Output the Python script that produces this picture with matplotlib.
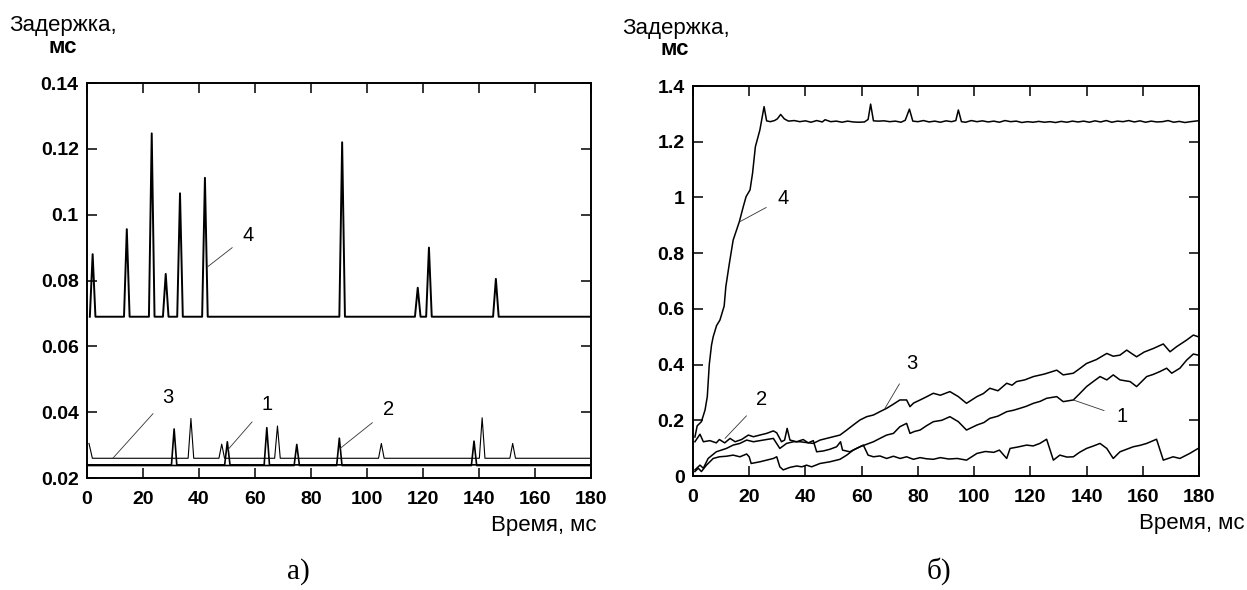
import numpy as np
import matplotlib
matplotlib.use("Agg")
import matplotlib.pyplot as plt

plt.rcParams['font.family'] = ['Liberation Sans', 'DejaVu Sans']

# ---- а) spikes on flat baselines
a4_base = 0.069
a4_peak_t = [2.0, 14.2, 23.1, 28.1, 33.2, 42.1, 91.1, 118.1, 122.1, 146.0]
a4_peak_v = [0.088, 0.0956, 0.1247, 0.082, 0.1065, 0.1112, 0.122, 0.0778, 0.090, 0.0805]

a3_base = 0.026
a3_start = (0.7, 0.0305)
a3_peak_t = [37.1, 48.1, 68.0, 105.1, 141.1, 152.0]
a3_peak_v = [0.0381, 0.0303, 0.0358, 0.0305, 0.0383, 0.0305]

a1_base = 0.0240
a1_peak_t = [31.1, 50.1, 64.2]
a1_peak_v = [0.0349, 0.031, 0.0353]

a2_base = 0.0238
a2_peak_t = [74.9, 90.1, 138.2]
a2_peak_v = [0.0302, 0.0321, 0.0312]

# ---- б) delay traces, (time, delay) pairs
b4 = [(0.7, 0.14), (1.5, 0.18), (3.0, 0.195), (4.3, 0.237), (5.1, 0.285), (5.8, 0.40),
      (6.6, 0.47), (7.2, 0.50), (8.4, 0.54), (9.6, 0.56), (11.1, 0.61), (11.7, 0.68),
      (12.9, 0.76), (14.3, 0.847), (16.5, 0.913), (17.9, 0.967), (18.9, 1.003),
      (20.3, 1.027), (21.2, 1.087), (22.2, 1.182), (23.8, 1.242), (25.3, 1.326),
      (26.2, 1.275), (27.5, 1.272), (29, 1.276), (30, 1.282), (31.2, 1.298), (32.5, 1.282),
      (34, 1.274), (36, 1.276), (38, 1.272), (40, 1.275), (42, 1.270), (44, 1.276),
      (46, 1.271), (47, 1.279), (49, 1.272), (51, 1.274), (53, 1.270), (55, 1.274),
      (57, 1.271), (59, 1.270), (61, 1.271), (62.3, 1.280), (63.2, 1.335), (64.2, 1.275),
      (66, 1.274), (68, 1.275), (70, 1.272), (72, 1.274), (74, 1.270), (75.5, 1.277),
      (77, 1.317), (78.2, 1.274), (80, 1.272), (82, 1.276), (84, 1.271), (86, 1.274),
      (88, 1.270), (90, 1.275), (92, 1.272), (93.5, 1.276), (94.4, 1.314), (95.5, 1.272),
      (97, 1.270), (99, 1.276), (101, 1.272), (103, 1.275), (105, 1.271), (107, 1.274),
      (109, 1.270), (111, 1.276), (113, 1.272), (115, 1.274), (117, 1.269), (119, 1.272),
      (121, 1.270), (123, 1.273), (125, 1.270), (127, 1.272), (129, 1.269), (131, 1.273),
      (133, 1.270), (135, 1.274), (137, 1.271), (139, 1.274), (141, 1.270), (143, 1.275),
      (145, 1.271), (147, 1.276), (149, 1.270), (151, 1.274), (153, 1.272), (155, 1.276),
      (157, 1.271), (159, 1.275), (161, 1.270), (163, 1.274), (165, 1.271), (167, 1.272),
      (169, 1.276), (171, 1.270), (173, 1.273), (175, 1.269), (177, 1.272), (179.5, 1.275)]

b3 = [(0.7, 0.022), (2.5, 0.039), (3.7, 0.028), (5.4, 0.063), (8.3, 0.087), (11.9, 0.099),
      (14.3, 0.111), (16.7, 0.117), (19.1, 0.129), (21.5, 0.123), (25, 0.129), (28.6, 0.135),
      (30.9, 0.099), (33.3, 0.117), (35.7, 0.123), (38.1, 0.123), (40.4, 0.120),
      (42.8, 0.117), (45.2, 0.129), (49.9, 0.141), (52.3, 0.147), (54.7, 0.165),
      (57.0, 0.183), (59.4, 0.201), (61.8, 0.213), (64.2, 0.219), (66.5, 0.231),
      (68.9, 0.243), (71.3, 0.258), (73.6, 0.273), (76, 0.273), (77.2, 0.249), (78.5, 0.262),
      (80.8, 0.273), (83.2, 0.285), (85.5, 0.297), (88, 0.290), (91.4, 0.303), (94.4, 0.285),
      (97.3, 0.261), (101, 0.285), (103.3, 0.296), (105.6, 0.315), (108.5, 0.306),
      (111.6, 0.333), (113.5, 0.326), (115.1, 0.339), (118, 0.345), (121.1, 0.357),
      (125, 0.366), (129.4, 0.380), (131.7, 0.363), (135.3, 0.369), (137.5, 0.385),
      (140, 0.404), (143.5, 0.418), (147.2, 0.440), (149.5, 0.430), (151.9, 0.434),
      (154.3, 0.452), (156, 0.440), (157.8, 0.428), (160.5, 0.445), (163.8, 0.458),
      (167.3, 0.474), (169.7, 0.446), (172, 0.464), (175.6, 0.488), (178, 0.506),
      (179.7, 0.500)]

b1 = [(0.7, 0.016), (1.9, 0.028), (3.0, 0.016), (4.8, 0.039), (7.2, 0.063), (9.4, 0.069),
      (11.9, 0.071), (14.3, 0.075), (16.7, 0.069), (19.1, 0.079), (20.0, 0.069),
      (20.7, 0.045), (23.8, 0.051), (26.2, 0.057), (28.6, 0.063), (29.8, 0.069),
      (30.9, 0.033), (32.1, 0.022), (34.5, 0.031), (36.9, 0.036), (38.7, 0.033),
      (40.4, 0.039), (42.2, 0.033), (45.2, 0.045), (48.7, 0.051), (52.3, 0.060),
      (54.7, 0.075), (57.0, 0.093), (59.4, 0.105), (61.8, 0.114), (64.2, 0.123),
      (66.5, 0.135), (68.9, 0.147), (71.3, 0.153), (73.6, 0.177), (76.0, 0.189),
      (77.2, 0.153), (78.8, 0.160), (80.8, 0.165), (83, 0.180), (85.5, 0.195), (88.5, 0.200),
      (91.4, 0.213), (94.4, 0.195), (97.3, 0.165), (101, 0.183), (103.5, 0.192),
      (105.6, 0.207), (108.5, 0.215), (111.6, 0.231), (114, 0.236), (116.3, 0.243),
      (118.5, 0.250), (121.1, 0.261), (123.5, 0.268), (125.8, 0.279), (129.4, 0.285),
      (131.7, 0.267), (135.3, 0.273), (137.5, 0.295), (140, 0.321), (142.5, 0.340),
      (144.8, 0.357), (147.2, 0.345), (149.5, 0.363), (151.9, 0.345), (155.5, 0.339),
      (157.8, 0.321), (161.4, 0.357), (163.8, 0.365), (166.1, 0.375), (168.5, 0.387),
      (170.3, 0.369), (173.2, 0.387), (175.6, 0.416), (178, 0.438), (179.7, 0.434)]

b2 = [(0.7, 0.123), (2.5, 0.150), (3.7, 0.123), (6.0, 0.127), (8.3, 0.119), (9.4, 0.131),
      (11.3, 0.119), (13.2, 0.135), (15.0, 0.123), (17.3, 0.131), (19.7, 0.147),
      (21.5, 0.141), (23.8, 0.147), (26.2, 0.153), (28.6, 0.162), (29.8, 0.155),
      (31.5, 0.123), (32.6, 0.129), (33.5, 0.171), (34.5, 0.129), (36.9, 0.123),
      (39.2, 0.131), (41.0, 0.119), (42.8, 0.127), (44.0, 0.087), (46.4, 0.090),
      (48.7, 0.096), (51.1, 0.105), (52.5, 0.123), (53.2, 0.093), (55.8, 0.087),
      (58.2, 0.099), (60.6, 0.111), (62.3, 0.075), (64.2, 0.069), (66.5, 0.072),
      (68.9, 0.063), (71.3, 0.071), (73.7, 0.063), (76.0, 0.069), (78.4, 0.060),
      (80.8, 0.066), (83, 0.062), (85.5, 0.060), (88, 0.066), (91, 0.061), (94, 0.063),
      (97.3, 0.057), (101, 0.081), (104, 0.088), (107, 0.085), (109, 0.093), (111.6, 0.063),
      (112.8, 0.099), (115.5, 0.104), (118.7, 0.111), (121, 0.108), (123.4, 0.117),
      (125.8, 0.132), (128.2, 0.057), (130.5, 0.075), (133, 0.068), (135.3, 0.069),
      (137.5, 0.085), (140, 0.099), (142.5, 0.108), (144.8, 0.117), (147.2, 0.099),
      (149.5, 0.063), (151.9, 0.087), (154, 0.095), (156.6, 0.105), (159, 0.110),
      (161.4, 0.117), (164.9, 0.132), (167.3, 0.057), (170.8, 0.069), (173.2, 0.063),
      (176.7, 0.081), (179.7, 0.099)]

x_ticks = [0, 20, 40, 60, 80, 100, 120, 140, 160, 180]
a_yticks = [0.02, 0.04, 0.06, 0.08, 0.1, 0.12, 0.14]
a_ylabels = ["0.02", "0.04", "0.06", "0.08", "0.1", "0.12", "0.14"]
b_yticks = [0, 0.2, 0.4, 0.6, 0.8, 1.0, 1.2, 1.4]
b_ylabels = ["0", "0.2", "0.4", "0.6", "0.8", "1", "1.2", "1.4"]

W, H = 1247, 590


def spike_line(base, peak_t, peak_v, t0, t1, hw=1.0, start=None):
    # flat baseline with triangular spikes at given peaks
    xs, ys = [], []
    if start is not None:
        xs.append(start[0]); ys.append(start[1])
        xs.append(start[0] + 1.2); ys.append(base)
    else:
        xs.append(t0); ys.append(base)
    for t, v in zip(peak_t, peak_v):
        xs += [t - hw, t, t + hw]
        ys += [base, v, base]
    xs.append(t1); ys.append(base)
    return xs, ys


def style_axes(ax, yticks, ylabels, ylim):
    ax.set_xlim(0, 180)
    ax.set_ylim(*ylim)
    ax.set_xticks(x_ticks)
    ax.set_xticklabels([str(v) for v in x_ticks])
    ax.set_yticks(yticks)
    ax.set_yticklabels(ylabels)
    ax.tick_params(direction="in", length=7.5, width=1.1, top=True, right=True,
                   labelsize=14)
    ax.tick_params(axis="x", pad=9)
    ax.tick_params(axis="y", pad=6)
    for lab in ax.get_xticklabels() + ax.get_yticklabels():
        lab.set_fontweight("bold")
    for sp in ax.spines.values():
        sp.set_linewidth(1.4)


def leader(ax, text, xy, xytext):
    ax.annotate(text, xy=xy, xytext=xytext, fontsize=14.5, ha="center", va="center",
                arrowprops=dict(arrowstyle="-", lw=0.6, color="#333333", shrinkA=7, shrinkB=0))


def px_text(x, y, s, **kw):
    # place text by pixel position measured from the top-left corner
    fig.text(x / W, 1 - y / H, s, **kw)


fig = plt.figure(figsize=(12.47, 5.90), dpi=100)
ax1 = fig.add_axes([0.0698, 0.1898, 0.4042, 0.6695])
ax2 = fig.add_axes([0.5557, 0.1932, 0.4058, 0.661])

# а)
x4, y4 = spike_line(a4_base, a4_peak_t, a4_peak_v, 1.0, 180)
x3, y3 = spike_line(a3_base, a3_peak_t, a3_peak_v, 0.7, 180, start=a3_start)
x1, y1 = spike_line(a1_base, a1_peak_t, a1_peak_v, 0.3, 180, hw=0.95)
x2, y2 = spike_line(a2_base, a2_peak_t, a2_peak_v, 0.3, 180, hw=0.95)
ax1.plot(x4, y4, color="black", lw=1.4)
ax1.plot(x3, y3, color="black", lw=0.8)
ax1.plot(x1, y1, color="black", lw=1.2)
ax1.plot(x2, y2, color="black", lw=1.2)
style_axes(ax1, a_yticks, a_ylabels, (0.02, 0.14))
leader(ax1, "4", (43.1, 0.0842), (57.6, 0.0938))
leader(ax1, "3", (9.2, 0.026), (28.9, 0.0446))
leader(ax1, "1", (50.2, 0.0285), (64.2, 0.0422))
leader(ax1, "2", (90.4, 0.029), (107.6, 0.0407))

# б)
for trace in (b4, b3, b1, b2):
    t, v = zip(*trace)
    ax2.plot(t, v, color="black", lw=1.1)
style_axes(ax2, b_yticks, b_ylabels, (0, 1.4))
leader(ax2, "4", (16.7, 0.913), (32.1, 0.997))
leader(ax2, "2", (11.4, 0.135), (24.4, 0.273))
leader(ax2, "3", (68.3, 0.243), (77.8, 0.405))
leader(ax2, "1", (135.3, 0.273), (152.5, 0.213))

# axis titles
px_text(63, 31, "Задержка,", ha="center", va="baseline", fontsize=16)
px_text(63, 53, "мс", ha="center", va="baseline", fontsize=16, fontweight="bold")
px_text(676, 34, "Задержка,", ha="center", va="baseline", fontsize=16)
px_text(675, 55, "мс", ha="center", va="baseline", fontsize=16, fontweight="bold")
px_text(597, 531, "Время, мс", ha="right", va="baseline", fontsize=16)
px_text(1245, 529, "Время, мс", ha="right", va="baseline", fontsize=16)

px_text(298, 572, "а)", ha="center", va="center", fontsize=21, family="Liberation Serif")
px_text(939, 571, "б)", ha="center", va="center", fontsize=21, family="Liberation Serif")

fig.savefig("out.png", dpi=100)
